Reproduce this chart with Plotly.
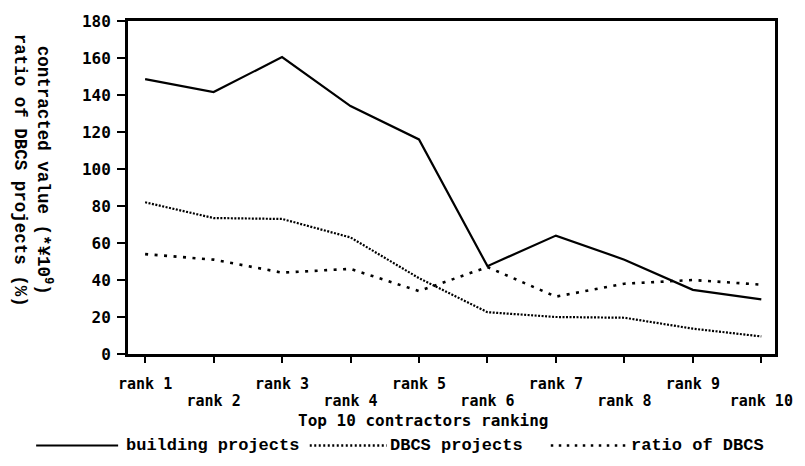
import plotly.graph_objects as go

# Top 10 contractors: contracted value and DBCS figures
ranks = ["rank 1", "rank 2", "rank 3", "rank 4", "rank 5",
         "rank 6", "rank 7", "rank 8", "rank 9", "rank 10"]
building_projects = [148.6, 141.6, 160.5, 134, 116, 47.5, 64, 51, 34.7, 29.5]
dbcs_projects = [82, 73.5, 73, 63, 41, 22.6, 20, 19.6, 13.7, 9.5]
ratio_of_dbcs = [54, 51, 44, 46, 34, 47, 31, 38, 40, 37.5]

y_ticks = [0, 20, 40, 60, 80, 100, 120, 140, 160, 180]

positions = list(range(1, len(ranks) + 1))
# odd ranks label the first row, even ranks a second, lower row
odd_pos, odd_text = positions[0::2], ranks[0::2]
even_pos, even_text = positions[1::2], ranks[1::2]

MONO = "DejaVu Sans Mono"
SERIF_MONO = "Liberation Mono"
X_RANGE = [0.75, 10.2]

fig = go.Figure()

series = [
    ("building projects", building_projects, "solid", 2.2),
    ("DBCS projects", dbcs_projects, "2px,1.5px", 2.2),
    ("ratio of DBCS", ratio_of_dbcs, "3px,6.5px", 2.6),
]
for name, values, dash, width in series:
    fig.add_trace(go.Scatter(
        x=positions, y=values, name=name, mode="lines",
        line=dict(color="black", width=width, dash=dash),
        showlegend=False,
    ))

# invisible carrier so the second label row gets drawn
fig.add_trace(go.Scatter(
    x=even_pos, y=[None] * len(even_pos), xaxis="x2", mode="lines",
    showlegend=False, hoverinfo="skip",
))

tick_font = dict(family=MONO, size=15, weight="bold")

fig.update_layout(
    width=805, height=466,
    margin=dict(l=128, r=22, t=12, b=112),
    paper_bgcolor="white", plot_bgcolor="white",
    font=dict(family=MONO, color="black", size=15),
    xaxis=dict(
        range=X_RANGE,
        tickvals=positions,
        ticktext=[r if p in odd_pos else "" for p, r in zip(positions, ranks)],
        ticks="outside", ticklen=6, tickwidth=2, tickcolor="black",
        ticklabelstandoff=8,
        showline=True, linewidth=3, linecolor="black", mirror=True,
        showgrid=False, zeroline=False,
        tickfont=tick_font,
    ),
    xaxis2=dict(
        range=X_RANGE, overlaying="x", anchor="y", side="bottom",
        tickvals=even_pos, ticktext=even_text,
        ticks="outside", ticklen=6, tickcolor="rgba(0,0,0,0)",
        ticklabelstandoff=27,
        showline=False, showgrid=False, zeroline=False,
        tickfont=tick_font,
    ),
    yaxis=dict(
        range=[0, 180],
        tickvals=y_ticks,
        ticks="outside", ticklen=8, tickwidth=2, tickcolor="black",
        ticklabelstandoff=3,
        showline=True, linewidth=3, linecolor="black", mirror=True,
        showgrid=False, zeroline=False,
        tickfont=dict(family=MONO, size=16, weight="bold"),
    ),
)


def px_x(px):
    return (px - 128) / 655.0


def px_y(py):
    return (354 - py) / 342.0


# axis titles
fig.add_annotation(
    text="Top 10 contractors ranking", xref="paper", yref="paper",
    x=px_x(427), y=px_y(422), showarrow=False,
    xanchor="center", yanchor="middle",
    font=dict(family=MONO, size=16, weight="bold"),
)
fig.add_annotation(
    text="contracted value (*¥10<sup>9</sup>)<br>ratio of DBCS projects (%)",
    xref="paper", yref="paper", x=px_x(31), y=px_y(165), textangle=90,
    showarrow=False, xanchor="center", yanchor="middle",
    font=dict(family=SERIF_MONO, size=17.5, weight="bold"),
)

# legend row beneath the axis title
legend_y = px_y(448)
legend_items = [
    ("building projects", "solid", 2.0, 35, 118, 124),
    ("DBCS projects", "2px,2.5px", 2.4, 312, 390, 391),
    ("ratio of DBCS", "2.5px,5.5px", 2.6, 556, 634, 635),
]
for label, dash, width, x0, x1, tx in legend_items:
    fig.add_shape(
        type="line", xref="paper", yref="paper",
        x0=px_x(x0), x1=px_x(x1), y0=legend_y, y1=legend_y,
        line=dict(color="black", width=width, dash=dash),
    )
    fig.add_annotation(
        text=label, xref="paper", yref="paper",
        x=px_x(tx), y=legend_y, showarrow=False,
        xanchor="left", yanchor="middle",
        font=dict(family=SERIF_MONO, size=17, weight="bold"),
    )

fig.write_html("out.html")
